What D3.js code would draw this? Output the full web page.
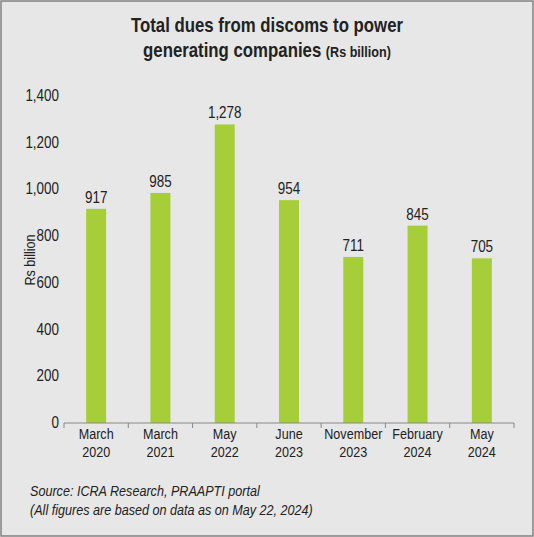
<!DOCTYPE html><html><head><script src="https://cdn.jsdelivr.net/npm/d3@7"></script>
<style>body{margin:0;background:#fff}text{font-family:"Liberation Sans",Arial,sans-serif}</style></head><body>
<svg id="c" width="534" height="537"></svg>
<script>
const categories=[["March","2020"],["March","2021"],["May","2022"],["June","2023"],["November","2023"],["February","2024"],["May","2024"]];
const values=[917,985,1278,954,711,845,705];
const yTicks=[0,200,400,600,800,1000,1200,1400];
const svg=d3.select("#c");
const SX=0.84;
function T(p,x,y,s,size,anchor,extra){const g=p.append("g").attr("transform",`translate(${x},${y}) scale(${SX},1)`);const t=g.append("text").attr("text-anchor",anchor||"start").attr("font-size",size).attr("fill","#222").text(s);if(extra)extra(t);return t;}
svg.append("rect").attr("x",1).attr("y",1).attr("width",532).attr("height",535).attr("fill","#e7e7e7").attr("stroke","#7f7f7f").attr("stroke-width",1.5);
const x=d3.scaleBand().domain(d3.range(categories.length)).range([64,514]);
const y=d3.scaleLinear().domain([0,1400]).range([423,96]);
const g=svg.append("g");
g.selectAll("rect.b").data(values).join("rect").attr("x",(d,i)=>x(i)+x.bandwidth()/2-10).attr("width",20).attr("y",d=>y(d)).attr("height",d=>y(0)-y(d)).attr("fill","#a6ce39");
values.forEach((d,i)=>T(g,x(i)+x.bandwidth()/2,y(d)-6,d3.format(",")(d),16,"middle"));
yTicks.forEach(v=>T(svg,59,y(v)+5,d3.format(",")(v),16,"end"));
const xa=svg.append("g").attr("transform","translate(0,423)");
xa.append("line").attr("x1",64).attr("x2",514).attr("stroke","#888");
xa.selectAll("line.t").data(d3.range(categories.length+1)).join("line").attr("x1",i=>64+i*x.step()).attr("x2",i=>64+i*x.step()).attr("y1",0).attr("y2",5).attr("stroke","#888");
categories.forEach((c,i)=>{c.forEach((s,j)=>T(xa,x(i)+x.bandwidth()/2,16+j*18,s,15,"middle"));});
svg.append("g").attr("transform","translate(35,260) rotate(-90) scale(0.84,1)").append("text").attr("text-anchor","middle").attr("font-size",15).attr("fill","#222").text("Rs billion");
T(svg,267,32,"Total dues from discoms to power",20,"middle",t=>t.attr("font-weight","bold"));
T(svg,267,57,"",20,"middle",t=>{t.attr("font-weight","bold");t.append("tspan").text("generating companies ");t.append("tspan").attr("font-size",15).text("(Rs billion)");});
T(svg,30,496,"Source: ICRA Research, PRAAPTI portal",15,"start",t=>t.attr("font-style","italic"));
T(svg,30,515,"(All figures are based on data as on May 22, 2024)",15,"start",t=>t.attr("font-style","italic"));
</script></body></html>
